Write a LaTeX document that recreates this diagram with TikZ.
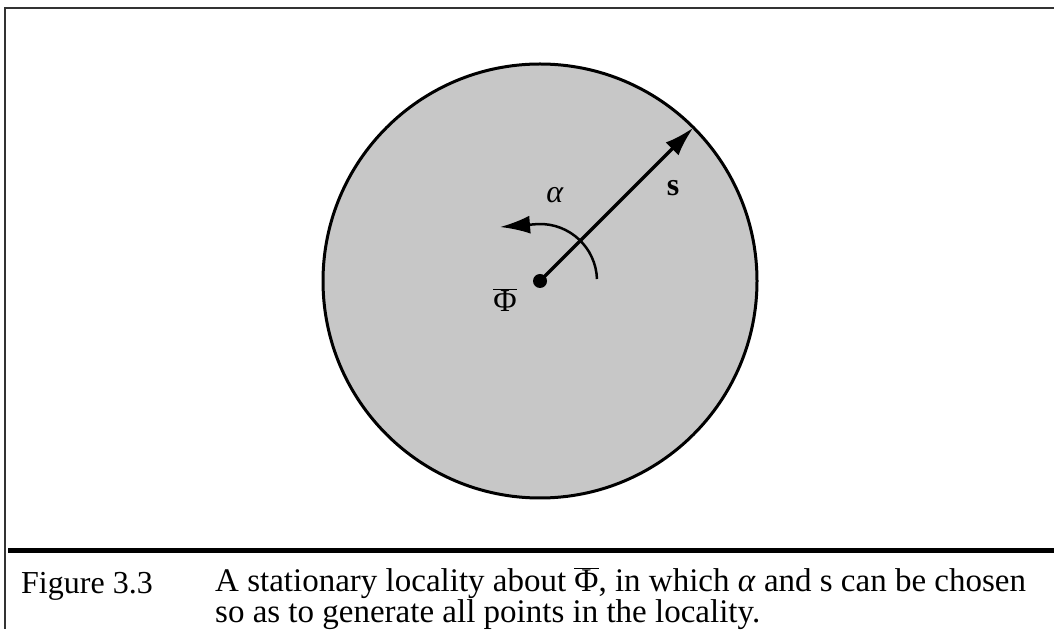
\documentclass[tikz,border=0pt]{standalone}
\usepackage{fontspec}
\setmainfont{Liberation Serif}
\usetikzlibrary{arrows.meta,calc}
\begin{document}
\begin{tikzpicture}[x=1pt,y=1pt,every node/.style={font=\fontsize{32}{26}\selectfont,inner sep=0pt}]
    \useasboundingbox (0,0) rectangle (1054,629);
    \fill[white] (0,0) rectangle (1054,629);
    % marco de la figura
    \draw[line width=2.5pt,black!80] (1054,621) -- (5,621) -- (5,0);
    \draw[line width=5pt] (8,79) -- (1054,79);
    \coordinate (O) at (540,348);
    \draw[line width=3pt,fill=black!22] (O) circle[radius=217];
    \coordinate (R) at ($(O)+(45:217)$);
    \draw[line width=3.5pt,-{Latex[length=30pt,width=18pt]}] (O) -- (R);
    \draw[line width=2.5pt,-{Latex[length=30pt,width=18pt]}]
        ($(O)+(2:57)$) arc[start angle=2,end angle=92,radius=57] -- ++(-38,-3);
    \fill (O) circle[radius=7];
    \node (alpha) at (555,434) {\textit{α}};
    \node (s) at (673,441) {\textbf{s}};
    \node (phi) at (505,329) {$\overline{\hbox{Φ}}$};
    % pie de figura
    \node[anchor=base west] (fig) at (21,36) {Figure 3.3};
    \node[anchor=south west,align=left,font=\fontsize{33}{28}\selectfont] (caption) at (215,-1)
        {A stationary locality about $\overline{\hbox{Φ}}$, in which \textit{α} and s can be chosen\\
         so as to generate all points in the locality.};
\end{tikzpicture}
\end{document}
